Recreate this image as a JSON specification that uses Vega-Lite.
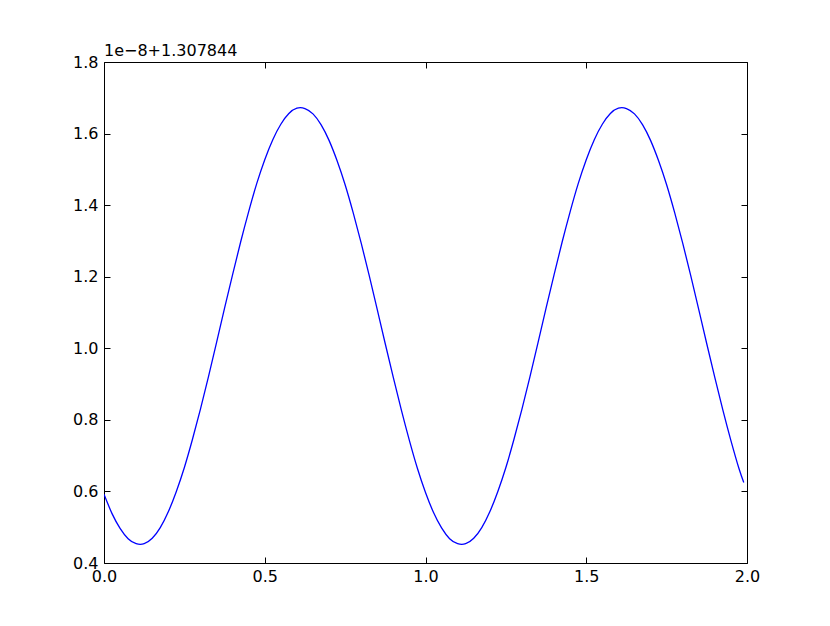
{
  "$schema": "https://vega.github.io/schema/vega-lite/v6.json",
  "autosize": "none",
  "width": 643,
  "height": 501,
  "padding": {"left": 104, "top": 62, "right": 83, "bottom": 63},
  "background": "white",
  "title": {"text": "1e−8+1.307844", "anchor": "start", "fontSize": 16, "fontWeight": "normal", "font": "DejaVu Sans", "color": "black", "offset": -5, "frame": "group"},
  "config": {
    "view": {"stroke": "black", "strokeWidth": 1},
    "axis": {"grid": false, "domain": false, "tickColor": "black", "tickSize": -6, "labelFont": "DejaVu Sans", "labelFontSize": 16, "labelColor": "black", "labelOverlap": false, "labelFlush": false}
  },
  "data": {"values": [
    {"x": 0.0, "y": 0.592}, {"x": 0.025, "y": 0.538}, {"x": 0.05, "y": 0.497}, {"x": 0.075, "y": 0.468}, {"x": 0.1, "y": 0.454},
    {"x": 0.125, "y": 0.454}, {"x": 0.15, "y": 0.469}, {"x": 0.175, "y": 0.499}, {"x": 0.2, "y": 0.543}, {"x": 0.225, "y": 0.600},
    {"x": 0.25, "y": 0.667}, {"x": 0.275, "y": 0.745}, {"x": 0.3, "y": 0.830}, {"x": 0.325, "y": 0.921}, {"x": 0.35, "y": 1.016},
    {"x": 0.375, "y": 1.112}, {"x": 0.4, "y": 1.206}, {"x": 0.425, "y": 1.297}, {"x": 0.45, "y": 1.382}, {"x": 0.475, "y": 1.460},
    {"x": 0.5, "y": 1.527}, {"x": 0.525, "y": 1.583}, {"x": 0.55, "y": 1.626}, {"x": 0.575, "y": 1.656}, {"x": 0.6, "y": 1.671},
    {"x": 0.625, "y": 1.670}, {"x": 0.65, "y": 1.655}, {"x": 0.675, "y": 1.625}, {"x": 0.7, "y": 1.581}, {"x": 0.725, "y": 1.524},
    {"x": 0.75, "y": 1.457}, {"x": 0.775, "y": 1.379}, {"x": 0.8, "y": 1.294}, {"x": 0.825, "y": 1.203}, {"x": 0.85, "y": 1.108},
    {"x": 0.875, "y": 1.012}, {"x": 0.9, "y": 0.918}, {"x": 0.925, "y": 0.827}, {"x": 0.95, "y": 0.742}, {"x": 0.975, "y": 0.664},
    {"x": 1.0, "y": 0.597}, {"x": 1.025, "y": 0.541}, {"x": 1.05, "y": 0.498}, {"x": 1.075, "y": 0.468}, {"x": 1.1, "y": 0.454},
    {"x": 1.125, "y": 0.454}, {"x": 1.15, "y": 0.469}, {"x": 1.175, "y": 0.499}, {"x": 1.2, "y": 0.543}, {"x": 1.225, "y": 0.600},
    {"x": 1.25, "y": 0.667}, {"x": 1.275, "y": 0.745}, {"x": 1.3, "y": 0.830}, {"x": 1.325, "y": 0.921}, {"x": 1.35, "y": 1.016},
    {"x": 1.375, "y": 1.112}, {"x": 1.4, "y": 1.206}, {"x": 1.425, "y": 1.297}, {"x": 1.45, "y": 1.382}, {"x": 1.475, "y": 1.460},
    {"x": 1.5, "y": 1.527}, {"x": 1.525, "y": 1.583}, {"x": 1.55, "y": 1.626}, {"x": 1.575, "y": 1.656}, {"x": 1.6, "y": 1.671},
    {"x": 1.625, "y": 1.670}, {"x": 1.65, "y": 1.655}, {"x": 1.675, "y": 1.625}, {"x": 1.7, "y": 1.581}, {"x": 1.725, "y": 1.524},
    {"x": 1.75, "y": 1.457}, {"x": 1.775, "y": 1.379}, {"x": 1.8, "y": 1.294}, {"x": 1.825, "y": 1.203}, {"x": 1.85, "y": 1.108},
    {"x": 1.875, "y": 1.012}, {"x": 1.9, "y": 0.918}, {"x": 1.925, "y": 0.827}, {"x": 1.95, "y": 0.742}, {"x": 1.975, "y": 0.664},
    {"x": 1.99, "y": 0.625}
  ]},
  "layer": [
    {
      "mark": {"type": "line", "color": "#0000ff", "strokeWidth": 1.3, "clip": true, "interpolate": "natural"},
      "encoding": {
        "x": {"field": "x", "type": "quantitative", "scale": {"domain": [0, 2], "nice": false, "zero": false}, "axis": {"title": null, "values": [0, 0.5, 1, 1.5, 2], "format": ".1f", "labelPadding": 11}},
        "y": {"field": "y", "type": "quantitative", "scale": {"domain": [0.4, 1.8], "nice": false, "zero": false}, "axis": {"title": null, "values": [0.4, 0.6, 0.8, 1.0, 1.2, 1.4, 1.6, 1.8], "format": ".1f", "labelPadding": 12}}
      }
    },
    {
      "mark": {"type": "line", "opacity": 0},
      "encoding": {
        "x": {"field": "x", "type": "quantitative", "axis": {"orient": "top", "title": null, "labels": false, "values": [0, 0.5, 1, 1.5, 2]}},
        "y": {"field": "y", "type": "quantitative", "axis": {"orient": "right", "title": null, "labels": false, "values": [0.4, 0.6, 0.8, 1.0, 1.2, 1.4, 1.6, 1.8]}}
      }
    }
  ],
  "resolve": {"axis": {"x": "independent", "y": "independent"}}
}
